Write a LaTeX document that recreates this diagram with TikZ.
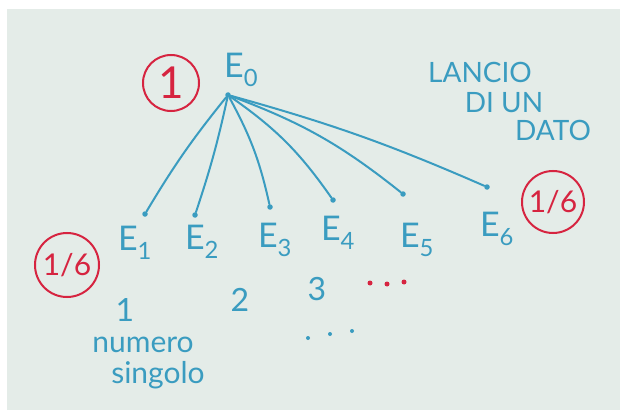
\documentclass[tikz,border=0pt]{standalone}
\usepackage{fontspec}
\setmainfont{Lato}
\definecolor{paper}{HTML}{E4ECE8}
\definecolor{ink}{HTML}{3A9CC0}
\definecolor{redink}{HTML}{D62440}

\begin{document}
\begin{tikzpicture}[x=1pt,y=1pt,
  lbl/.style={text=ink, font=\fontsize{34}{34}\selectfont, inner sep=0pt},
  hand/.style={text=ink, font=\fontsize{28}{28}\selectfont, inner sep=0pt},
  dot/.style={circle, fill=ink, inner sep=0pt, minimum size=5.5pt},
  reddot/.style={circle, fill=redink, inner sep=0pt, minimum size=5pt},
  smalldot/.style={circle, fill=ink, inner sep=0pt, minimum size=4pt},
  branch/.style={draw=ink, line width=2pt, line cap=round},
  ring/.style={circle, draw=redink, line width=2pt, text=redink, inner sep=0pt,
    font=\fontsize{30}{30}\selectfont},
]
\useasboundingbox (0,0) rectangle (622,-412);
\fill[white] (0,0) rectangle (622,-412);
\fill[paper] (7,-9) rectangle (620,-410);

% root event and its probability
\node[dot] (root) at (228,-95) {};
\node[lbl, anchor=south west] (e0) at (224,-87) {E\textsubscript{0}};
\node[ring, minimum size=56pt, font=\fontsize{44}{44}\selectfont] (pone) at (171,-83) {1};

% title
\node[hand] (t1) at (480,-72) {LANCIO};
\node[hand] (t2) at (504,-103) {DI UN};
\node[hand] (t3) at (553,-130) {DATO};

% leaf ends of the branches
\node[dot] (d1) at (145,-214) {};
\node[dot] (d2) at (195,-215) {};
\node[dot] (d3) at (270,-207) {};
\node[dot] (d4) at (333,-200) {};
\node[dot] (d5) at (403,-194) {};
\node[dot] (d6) at (487,-187) {};

% branches
\draw[branch] (root) to[bend right=4] (d1);
\draw[branch] (root) to[bend left=3] (d2);
\draw[branch] (root) to[bend left=8] (d3);
\draw[branch] (root) to[bend left=10] (d4);
\draw[branch] (root) to[bend left=9] (d5);
\draw[branch] (root) to[bend left=4] (d6);

% outcome labels
\node[lbl] (e1) at (135,-243) {E\textsubscript{1}};
\node[lbl] (e2) at (202,-242) {E\textsubscript{2}};
\node[lbl] (e3) at (275,-240) {E\textsubscript{3}};
\node[lbl] (e4) at (338,-233) {E\textsubscript{4}};
\node[lbl] (e5) at (417,-240) {E\textsubscript{5}};
\node[lbl] (e6) at (497,-229) {E\textsubscript{6}};

% probabilities of the single outcomes
\node[ring, minimum size=62pt] (pr) at (553,-202) {1/6};
\node[ring, minimum size=64pt] (pl) at (67,-265) {1/6};

% die faces
\node[hand, font=\fontsize{32}{32}\selectfont] (n1) at (125,-310) {1};
\node[hand, font=\fontsize{32}{32}\selectfont] (n2) at (240,-300) {2};
\node[hand, font=\fontsize{32}{32}\selectfont] (n3) at (317,-289) {3};
\node[reddot] (r1) at (370,-283) {};
\node[reddot] (r2) at (387,-284) {};
\node[reddot] (r3) at (404,-282) {};
\node[smalldot] (b1) at (308,-338) {};
\node[smalldot] (b2) at (330,-334) {};
\node[smalldot] (b3) at (352,-331) {};

\node[hand, font=\fontsize{30}{30}\selectfont] (w1) at (143,-345) {numero};
\node[hand, font=\fontsize{30}{30}\selectfont] (w2) at (158,-375) {singolo};
\end{tikzpicture}
\end{document}
